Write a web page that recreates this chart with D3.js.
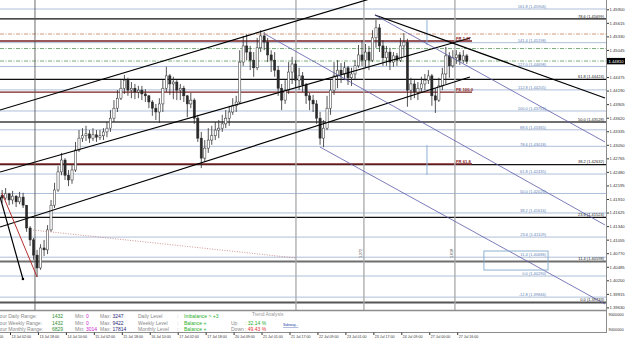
<!DOCTYPE html>
<html>
<head>
<meta charset="utf-8">
<script src="https://cdnjs.cloudflare.com/ajax/libs/d3/7.8.5/d3.min.js"></script>
<style>
  body { margin: 0; background: #fff; }
  svg { display: block; font-family: "Liberation Sans", Arial, sans-serif; }
</style>
</head>
<body>
<svg id="chart" width="625" height="341"></svg>
<script>
// ---- data (H2 candles, first candle at hour -5 from the 13 Jul 02:00 tick) ----
var firstHour = -5, hoursPerCandle = 2, firstOpen = 1.4199;
var closes = [1.4193,1.4202,1.4189,1.4197,1.4185,1.4195,1.4178,1.4130,1.4105,1.4073,
  1.4046,1.4088,1.4084,1.4126,1.4178,1.4210,1.4248,1.4273,1.4241,1.4231,
  1.4252,1.4294,1.4319,1.4324,1.4328,1.4319,1.4326,1.4321,1.4324,1.4332,
  1.4340,1.4361,1.4382,1.4403,1.4424,1.4441,1.4420,1.4424,1.4416,1.4420,
  1.4412,1.4408,1.4395,1.4382,1.4374,1.4391,1.4424,1.4450,1.4433,1.4437,
  1.4420,1.4424,1.4408,1.4391,1.4399,1.4361,1.4319,1.4277,1.4298,1.4315,
  1.4324,1.4336,1.4340,1.4349,1.4361,1.4374,1.4387,1.4395,1.4479,1.4513,
  1.4500,1.4483,1.4467,1.4509,1.4534,1.4521,1.4494,1.4483,1.4462,1.4424,
  1.4399,1.4420,1.4458,1.4475,1.4441,1.4450,1.4431,1.4408,1.4399,1.4391,
  1.4361,1.4319,1.4340,1.4382,1.4420,1.4450,1.4462,1.4454,1.4467,1.4446,
  1.4454,1.4471,1.4494,1.4483,1.4500,1.4483,1.4530,1.4551,1.4513,1.4488,
  1.4500,1.4479,1.4492,1.4483,1.4513,1.4521,1.4420,1.4433,1.4416,1.4424,
  1.4433,1.4441,1.4450,1.4408,1.4399,1.4429,1.4454,1.4492,1.4471,1.4488,
  1.4494,1.4483,1.4492,1.4481];
var highs = [1.4210,1.4214,1.4204,1.4208,1.4199,1.4206,1.4204,1.4178,1.4134,1.4109,
  1.4084,1.4096,1.4105,1.4136,1.4189,1.4225,1.4260,1.4288,1.4277,1.4252,
  1.4262,1.4311,1.4336,1.4340,1.4345,1.4336,1.4340,1.4336,1.4336,1.4340,
  1.4353,1.4378,1.4399,1.4420,1.4441,1.4452,1.4446,1.4437,1.4433,1.4429,
  1.4429,1.4422,1.4410,1.4399,1.4391,1.4403,1.4441,1.4469,1.4454,1.4448,
  1.4441,1.4433,1.4429,1.4410,1.4414,1.4403,1.4368,1.4332,1.4315,1.4340,
  1.4345,1.4353,1.4357,1.4368,1.4378,1.4387,1.4403,1.4408,1.4504,1.4534,
  1.4538,1.4513,1.4500,1.4530,1.4546,1.4542,1.4530,1.4504,1.4500,1.4471,
  1.4433,1.4441,1.4479,1.4490,1.4483,1.4467,1.4458,1.4435,1.4414,1.4410,
  1.4399,1.4374,1.4357,1.4408,1.4441,1.4479,1.4483,1.4477,1.4479,1.4471,
  1.4467,1.4483,1.4515,1.4525,1.4517,1.4513,1.4546,1.4568,1.4559,1.4525,
  1.4513,1.4509,1.4500,1.4498,1.4530,1.4540,1.4528,1.4446,1.4441,1.4437,
  1.4448,1.4454,1.4462,1.4454,1.4424,1.4446,1.4467,1.4511,1.4500,1.4504,
  1.4504,1.4500,1.4504,1.4496];
var lows = [1.4183,1.4189,1.4178,1.4180,1.4174,1.4180,1.4172,1.4122,1.4092,1.4063,
  1.4027,1.4042,1.4071,1.4075,1.4122,1.4172,1.4206,1.4241,1.4231,1.4218,
  1.4223,1.4248,1.4290,1.4311,1.4313,1.4309,1.4313,1.4311,1.4315,1.4315,
  1.4321,1.4332,1.4353,1.4374,1.4399,1.4412,1.4408,1.4403,1.4401,1.4403,
  1.4399,1.4395,1.4382,1.4366,1.4357,1.4351,1.4374,1.4416,1.4410,1.4401,
  1.4399,1.4399,1.4395,1.4363,1.4382,1.4349,1.4311,1.4256,1.4269,1.4288,
  1.4305,1.4315,1.4319,1.4332,1.4340,1.4345,1.4368,1.4374,1.4391,1.4471,
  1.4483,1.4462,1.4448,1.4462,1.4500,1.4504,1.4479,1.4458,1.4448,1.4408,
  1.4378,1.4391,1.4412,1.4433,1.4424,1.4420,1.4416,1.4391,1.4378,1.4374,
  1.4349,1.4305,1.4300,1.4336,1.4368,1.4410,1.4424,1.4435,1.4441,1.4431,
  1.4429,1.4441,1.4467,1.4471,1.4467,1.4462,1.4479,1.4509,1.4500,1.4471,
  1.4471,1.4462,1.4469,1.4471,1.4479,1.4492,1.4385,1.4399,1.4403,1.4399,
  1.4416,1.4420,1.4433,1.4387,1.4372,1.4395,1.4420,1.4433,1.4446,1.4467,
  1.4475,1.4473,1.4477,1.4475];

var priceTicks = [1.45900,1.45615,1.45330,1.45045,1.44475,1.44190,1.43905,1.43620,
  1.43335,1.43050,1.42765,1.42480,1.42195,1.41910,1.41625,1.41340,1.41055,1.40770,
  1.40485,1.40200,1.39915,1.39630];
var currentPrice = 1.44810;

var timeTickHours = [-16,0,16,32,48,64,80,96,112,128,144,160,176,192,208,224,240,256];
var timeLabels = ["10 Jul 10:00","13 Jul 02:00","13 Jul 18:00","14 Jul 10:00","15 Jul 02:00",
  "15 Jul 18:00","16 Jul 10:00","17 Jul 02:00","17 Jul 18:00","20 Jul 09:00","21 Jul 01:00",
  "21 Jul 17:00","22 Jul 09:00","23 Jul 01:00","23 Jul 17:00","24 Jul 09:00","27 Jul 00:00",
  "27 Jul 16:00"];

// fibonacci set drawn in light blue (labels mid-right)
var fibLevels = ["161.8","141.4","127.0","112.8","100.0","88.6","78.6","61.8","50.0","38.2","23.6","11.4","0.0","-12.8"];
var fibPrices = [1.45906,1.45198,1.44698,1.44205,1.43761,1.43365,1.43018,1.42435,1.42026,1.41616,1.41109,1.40686,1.40290,1.39846];

// fibonacci set drawn in black (labels at right edge)
var fib2Levels = ["78.6","61.8","50.0","38.2","23.6","11.4","0.0"];
var fib2Prices = [1.45699,1.44424,1.43528,1.42632,1.41524,1.40598,1.39733];

// red projection levels
var frNames = ["FR 1.27","FE 100.0","FR 61.8"];
var frPrices = [1.45233,1.44160,1.42646];

// dash-dot pivot lines
var pivotPrices = [1.45380,1.45075,1.44812];

// vertical session markers (hour index)
var vLineHours = [14.3,163.7,202.6,254.7];
var vLabels = ["1.272","1.618"];

// trend lines: [hour1, price1, hour2, price2]
var channelLines = [
  [-5.7,1.43782,208.9,1.46150],
  [-5.7,1.42478,263.3,1.45296],
  [-5.7,1.41321,263.3,1.44476],
  [208.9,1.45780,340.6,1.44034],
  [-5.7,1.41952,7.4,1.40227]
];
var blueLines = [
  [208.9,1.45780,340.6,1.43109],
  [145.9,1.45380,340.6,1.41363],
  [177.4,1.43004,340.6,1.39701]
];
var redLine = [-4.6,1.42036,15.5,1.40269];
var redDotted = [13.2,1.41257,163.7,1.40669];
var blueSegments = [[238.7,1.45675,1.45149],[238.7,1.43045,1.42415]];
var boxRange = [271.3,1.40816,308.0,1.40416];

// info panel
var rangeRows = ["Hour Daily Range:","Hour Weekly Range:","Hour Monthly Range:"];
var rangeVals = ["1432","1432","6829"];
var minVals = ["0","0","3014"];
var maxVals = ["3247","9422","17814"];
var levelNames = ["Daily Level","Weekly Level","Monthly Level"];
var levelVals = ["Imbalance > +3","Balance +","Balance +"];
var trendNames = ["Up","Down"];
var trendVals = [": 32.14 %",": 49.43 %"];

// ---- drawing ----
var W = 625, H = 341, plotRight = 606, mainBottom = 310, frameBottom = 332;
var svg = d3.select('#chart');

var x = d3.scaleLinear().domain([0, 256]).range([10, 457.2]);
var y = d3.scaleLinear().domain([1.45900, 1.39630]).range([9.3, 307.4]);

svg.append('rect').attr('width', W).attr('height', H).attr('fill', '#fff');

svg.append('clipPath').attr('id', 'mainClip')
  .append('rect').attr('x', 0).attr('y', 0).attr('width', plotRight).attr('height', mainBottom);

var g = svg.append('g').attr('clip-path', 'url(#mainClip)');

// light blue fib lines
g.selectAll('line.fib').data(fibPrices).enter().append('line')
  .attr('x1', 0).attr('x2', plotRight)
  .attr('y1', function(d) { return y(d); }).attr('y2', function(d) { return y(d); })
  .attr('stroke', '#aebfd9').attr('stroke-width', 1);

// dash-dot pivots
var pivotColors = ['#c9865f', '#6aa56a', '#6aa56a'];
g.selectAll('line.pivot').data(pivotPrices).enter().append('line')
  .attr('x1', 0).attr('x2', plotRight)
  .attr('y1', function(d) { return y(d); }).attr('y2', function(d) { return y(d); })
  .attr('stroke', function(d, i) { return pivotColors[i]; })
  .attr('stroke-width', 0.9).attr('stroke-dasharray', '4,1.5,1,1.5');

// black fib set
var fib2Style = [['#111',1.2],['#111',1.2],['#6e6e6e',2],['#111',1.2],['#111',1.2],['#6e6e6e',2],['#555',2]];
g.selectAll('line.fib2').data(fib2Prices).enter().append('line')
  .attr('x1', 0).attr('x2', plotRight)
  .attr('y1', function(d) { return y(d); }).attr('y2', function(d) { return y(d); })
  .attr('stroke', function(d, i) { return fib2Style[i][0]; })
  .attr('stroke-width', function(d, i) { return fib2Style[i][1]; });

// red projection lines
g.selectAll('line.fr').data(frPrices).enter().append('line')
  .attr('x1', 0).attr('x2', 472)
  .attr('y1', function(d) { return y(d); }).attr('y2', function(d) { return y(d); })
  .attr('stroke', '#7a1f1f').attr('stroke-width', 1.3);

// vertical markers
g.selectAll('line.vl').data(vLineHours).enter().append('line')
  .attr('x1', function(d) { return x(d); }).attr('x2', function(d) { return x(d); })
  .attr('y1', 0).attr('y2', mainBottom)
  .attr('stroke', function(d, i) { return i === 0 ? '#5a5a5a' : '#a8a8a8'; })
  .attr('stroke-width', function(d, i) { return i === 0 ? 0.9 : 1.3; });

g.selectAll('line.bseg').data(blueSegments).enter().append('line')
  .attr('x1', function(d) { return x(d[0]); }).attr('x2', function(d) { return x(d[0]); })
  .attr('y1', function(d) { return y(d[1]); }).attr('y2', function(d) { return y(d[2]); })
  .attr('stroke', '#8fb0d8').attr('stroke-width', 1);

// candles
var candles = closes.map(function(c, i) {
  return { h: firstHour + i * hoursPerCandle + 0.5, o: i === 0 ? firstOpen : closes[i - 1], c: c, hi: highs[i], lo: lows[i] };
});
var cg = g.append('g');
cg.selectAll('line').data(candles).enter().append('line')
  .attr('x1', function(d) { return x(d.h); }).attr('x2', function(d) { return x(d.h); })
  .attr('y1', function(d) { return y(Math.max(d.hi, d.o, d.c)); })
  .attr('y2', function(d) { return y(Math.min(d.lo, d.o, d.c)); })
  .attr('stroke', '#2a2a2a').attr('stroke-width', 0.8);
cg.selectAll('rect').data(candles).enter().append('rect')
  .attr('x', function(d) { return x(d.h) - 1.1; })
  .attr('width', 2.2)
  .attr('y', function(d) { return y(Math.max(d.o, d.c)); })
  .attr('height', function(d) { return Math.max(0.6, Math.abs(y(d.o) - y(d.c))); })
  .attr('fill', function(d) { return d.c >= d.o ? '#fff' : '#2a2a2a'; })
  .attr('stroke', '#2a2a2a').attr('stroke-width', 0.5);

// trend lines
g.selectAll('line.ch').data(channelLines).enter().append('line')
  .attr('x1', function(d) { return x(d[0]); }).attr('y1', function(d) { return y(d[1]); })
  .attr('x2', function(d) { return x(d[2]); }).attr('y2', function(d) { return y(d[3]); })
  .attr('stroke', '#000').attr('stroke-width', 1.2);
g.append('circle').attr('cx', x(channelLines[4][2])).attr('cy', y(channelLines[4][3]))
  .attr('r', 1.3).attr('fill', '#000');
g.selectAll('line.bl').data(blueLines).enter().append('line')
  .attr('x1', function(d) { return x(d[0]); }).attr('y1', function(d) { return y(d[1]); })
  .attr('x2', function(d) { return x(d[2]); }).attr('y2', function(d) { return y(d[3]); })
  .attr('stroke', '#5a5aa8').attr('stroke-width', 0.8);
g.append('line')
  .attr('x1', x(redLine[0])).attr('y1', y(redLine[1]))
  .attr('x2', x(redLine[2])).attr('y2', y(redLine[3]))
  .attr('stroke', '#b83030').attr('stroke-width', 1);
g.append('line')
  .attr('x1', x(redDotted[0])).attr('y1', y(redDotted[1]))
  .attr('x2', x(redDotted[2])).attr('y2', y(redDotted[3]))
  .attr('stroke', '#c47a7a').attr('stroke-width', 0.8).attr('stroke-dasharray', '1,1.5');
g.append('rect')
  .attr('x', x(boxRange[0])).attr('y', y(boxRange[1]))
  .attr('width', x(boxRange[2]) - x(boxRange[0])).attr('height', y(boxRange[3]) - y(boxRange[1]))
  .attr('fill', 'none').attr('stroke', '#7fa9cc').attr('stroke-width', 0.9);

// labels
g.selectAll('text.fib').data(fibPrices).enter().append('text')
  .attr('x', 546).attr('y', function(d) { return y(d) - 0.8; })
  .attr('text-anchor', 'end').attr('font-size', 4).attr('fill', '#5f7fb5')
  .text(function(d, i) { return fibLevels[i] + ' (' + d.toFixed(5) + ')'; });
g.selectAll('text.fib2').data(fib2Prices).enter().append('text')
  .attr('x', 604).attr('y', function(d) { return y(d) - 1.2; })
  .attr('text-anchor', 'end').attr('font-size', 4).attr('fill', '#222')
  .text(function(d, i) { return fib2Levels[i] + ' (' + d.toFixed(5) + ')'; });
g.selectAll('text.fr').data(frPrices).enter().append('text')
  .attr('x', 456).attr('y', function(d) { return y(d) - 1.2; })
  .attr('font-size', 4.2).attr('font-weight', 'bold').attr('fill', '#8b1a1a')
  .text(function(d, i) { return frNames[i]; });
g.selectAll('text.vl').data(vLabels).enter().append('text')
  .attr('transform', function(d, i) { return 'translate(' + (x(vLineHours[i + 2]) - 1.5) + ',258) rotate(-90)'; })
  .attr('font-size', 3.6).attr('fill', '#333')
  .text(function(d) { return d; });

// frame
svg.append('line').attr('x1', 0).attr('x2', plotRight).attr('y1', mainBottom + 0.5).attr('y2', mainBottom + 0.5)
  .attr('stroke', '#8c8c8c').attr('stroke-width', 1.5);
svg.append('line').attr('x1', plotRight + 0.5).attr('x2', plotRight + 0.5).attr('y1', 0).attr('y2', frameBottom)
  .attr('stroke', '#8c8c8c').attr('stroke-width', 1);
svg.append('line').attr('x1', 0).attr('x2', plotRight + 1).attr('y1', frameBottom + 0.5).attr('y2', frameBottom + 0.5)
  .attr('stroke', '#8c8c8c').attr('stroke-width', 1);

// price axis
var yAxis = d3.axisRight(y).tickValues(priceTicks).tickSize(2)
  .tickFormat(function(d) { return d.toFixed(5); });
var ya = svg.append('g').attr('transform', 'translate(' + (plotRight + 1) + ',0)').call(yAxis);
ya.select('.domain').remove();
ya.selectAll('text').attr('x', 2.5).attr('font-size', 4.2).attr('fill', '#333')
  .attr('font-family', '"Liberation Sans", Arial, sans-serif');
ya.selectAll('line').attr('stroke', '#333');

svg.append('rect').attr('x', plotRight + 1).attr('y', y(currentPrice) - 3.2)
  .attr('width', W - plotRight).attr('height', 6.4).attr('fill', '#000');
svg.append('text').attr('x', plotRight + 2.5).attr('y', y(currentPrice) + 1.6)
  .attr('font-size', 4.2).attr('fill', '#fff').text(currentPrice.toFixed(5));

// sub window scale labels
var subLabels = [['9000000', 314.5], ['9000000', 329.5]];
svg.selectAll('text.sub').data(subLabels).enter().append('text')
  .attr('x', plotRight + 2.5).attr('y', function(d) { return d[1] + 1.5; })
  .attr('font-size', 3.9).attr('fill', '#333').text(function(d) { return d[0]; });

// time axis
var xAxis = d3.axisBottom(x).tickValues(timeTickHours).tickSize(2.5)
  .tickFormat(function(d, i) { return timeLabels[i]; });
var xa = svg.append('g').attr('transform', 'translate(0,' + (frameBottom + 0.5) + ')').call(xAxis);
xa.select('.domain').remove();
xa.selectAll('text').attr('text-anchor', 'start').attr('x', 1).attr('y', 3).attr('dy', '0.71em')
  .attr('font-size', 3.6).attr('fill', '#333')
  .attr('font-family', '"Liberation Sans", Arial, sans-serif');
xa.selectAll('line').attr('stroke', '#333');

// info panel
var info = svg.append('g').attr('font-size', 5);
var rowY = [318, 324.5, 331];
rangeRows.forEach(function(t, i) {
  info.append('text').attr('x', -4).attr('y', rowY[i]).attr('fill', '#888').text(t);
  info.append('text').attr('x', 52).attr('y', rowY[i]).attr('fill', '#2f8f2f').text(rangeVals[i]);
  info.append('text').attr('x', 75).attr('y', rowY[i]).attr('fill', '#888').text('Min:');
  info.append('text').attr('x', 86).attr('y', rowY[i]).attr('fill', '#cc22cc').text(minVals[i]);
  info.append('text').attr('x', 100).attr('y', rowY[i]).attr('fill', '#888').text('Max:');
  info.append('text').attr('x', 112.5).attr('y', rowY[i]).attr('fill', '#2a2a80').text(maxVals[i]);
  info.append('text').attr('x', 138).attr('y', rowY[i]).attr('fill', '#888').text(levelNames[i]);
  info.append('text').attr('x', 177).attr('y', rowY[i]).attr('fill', '#888').text(':');
  info.append('text').attr('x', 184).attr('y', rowY[i]).attr('fill', '#27b027').text(levelVals[i]);
});
info.append('text').attr('x', 252).attr('y', 315.5).attr('fill', '#999').attr('font-size', 4.8).text('Trend Analysis');
trendNames.forEach(function(t, i) {
  info.append('text').attr('x', 231).attr('y', rowY[i + 1]).attr('fill', '#888').text(t);
  info.append('text').attr('x', 245).attr('y', rowY[i + 1]).attr('fill', i === 0 ? '#27b027' : '#e03030').text(trendVals[i]);
});
info.append('text').attr('x', 283).attr('y', 326).attr('font-size', 3.4).attr('fill', '#2040a0')
  .attr('text-decoration', 'underline').text('Sideway...');
</script>
</body>
</html>
